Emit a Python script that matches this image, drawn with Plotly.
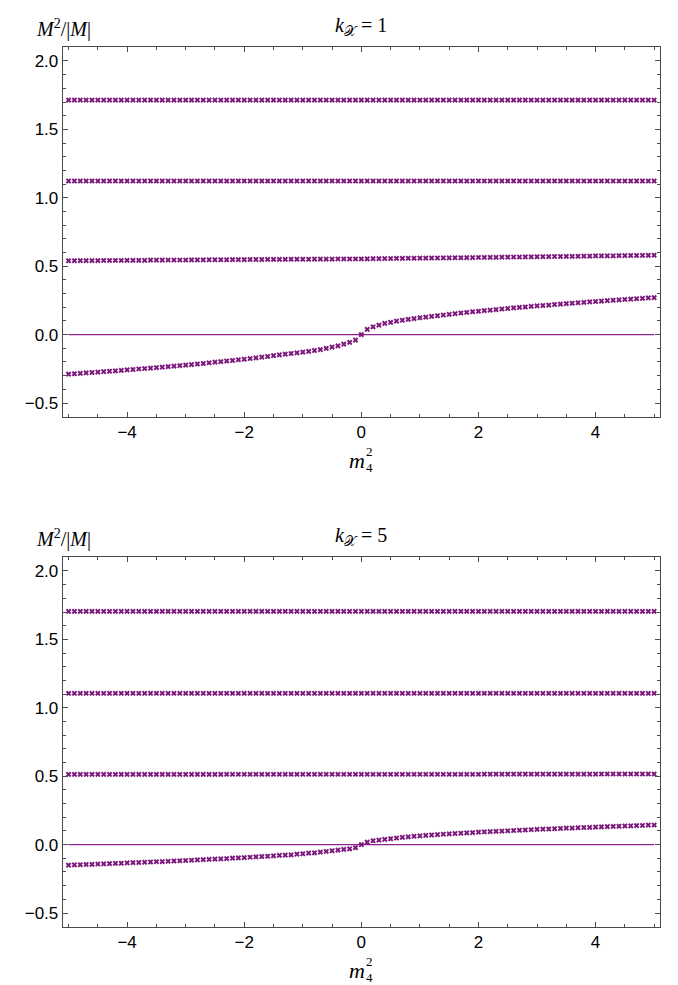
import plotly.graph_objects as go

# ---------------- data ----------------
m4sq = [-5.0, -4.9, -4.8, -4.7, -4.6, -4.5, -4.4, -4.3, -4.2, -4.1,
        -4.0, -3.9, -3.8, -3.7, -3.6, -3.5, -3.4, -3.3, -3.2, -3.1,
        -3.0, -2.9, -2.8, -2.7, -2.6, -2.5, -2.4, -2.3, -2.2, -2.1,
        -2.0, -1.9, -1.8, -1.7, -1.6, -1.5, -1.4, -1.3, -1.2, -1.1,
        -1.0, -0.9, -0.8, -0.7, -0.6, -0.5, -0.4, -0.3, -0.2, -0.1,
        0.0,
        0.1, 0.2, 0.3, 0.4, 0.5, 0.6, 0.7, 0.8, 0.9, 1.0,
        1.1, 1.2, 1.3, 1.4, 1.5, 1.6, 1.7, 1.8, 1.9, 2.0,
        2.1, 2.2, 2.3, 2.4, 2.5, 2.6, 2.7, 2.8, 2.9, 3.0,
        3.1, 3.2, 3.3, 3.4, 3.5, 3.6, 3.7, 3.8, 3.9, 4.0,
        4.1, 4.2, 4.3, 4.4, 4.5, 4.6, 4.7, 4.8, 4.9, 5.0]

# k_X = 1 panel
k1_mode1 = [1.714, 1.714, 1.714, 1.714, 1.714, 1.714, 1.714, 1.714, 1.714, 1.714,
            1.714, 1.714, 1.714, 1.714, 1.714, 1.714, 1.714, 1.714, 1.714, 1.714,
            1.714, 1.714, 1.714, 1.714, 1.714, 1.714, 1.714, 1.714, 1.714, 1.714,
            1.714, 1.714, 1.714, 1.714, 1.714, 1.714, 1.714, 1.714, 1.714, 1.714,
            1.714, 1.714, 1.714, 1.714, 1.714, 1.714, 1.714, 1.714, 1.714, 1.714,
            1.714,
            1.714, 1.714, 1.714, 1.714, 1.714, 1.714, 1.714, 1.714, 1.714, 1.714,
            1.714, 1.714, 1.714, 1.714, 1.714, 1.714, 1.714, 1.714, 1.714, 1.714,
            1.714, 1.714, 1.714, 1.714, 1.714, 1.714, 1.714, 1.714, 1.714, 1.714,
            1.714, 1.714, 1.714, 1.714, 1.714, 1.714, 1.714, 1.714, 1.714, 1.714,
            1.714, 1.714, 1.714, 1.714, 1.714, 1.714, 1.714, 1.714, 1.714, 1.714]
k1_mode2 = [1.123, 1.123, 1.123, 1.123, 1.123, 1.123, 1.123, 1.123, 1.123, 1.123,
            1.123, 1.123, 1.123, 1.123, 1.123, 1.123, 1.123, 1.123, 1.123, 1.123,
            1.123, 1.123, 1.123, 1.123, 1.123, 1.123, 1.123, 1.123, 1.123, 1.123,
            1.123, 1.123, 1.123, 1.123, 1.123, 1.123, 1.123, 1.123, 1.123, 1.123,
            1.123, 1.123, 1.123, 1.123, 1.123, 1.123, 1.123, 1.123, 1.123, 1.123,
            1.123,
            1.123, 1.123, 1.123, 1.123, 1.123, 1.123, 1.123, 1.123, 1.123, 1.123,
            1.123, 1.123, 1.123, 1.123, 1.123, 1.123, 1.123, 1.123, 1.123, 1.123,
            1.123, 1.123, 1.123, 1.123, 1.123, 1.123, 1.123, 1.123, 1.123, 1.123,
            1.123, 1.123, 1.123, 1.123, 1.123, 1.123, 1.123, 1.123, 1.123, 1.123,
            1.123, 1.123, 1.123, 1.123, 1.123, 1.123, 1.123, 1.123, 1.123, 1.123]
k1_mode3 = [0.540, 0.540, 0.541, 0.541, 0.541, 0.541, 0.542, 0.542, 0.542, 0.542,
            0.543, 0.543, 0.543, 0.543, 0.544, 0.544, 0.544, 0.545, 0.545, 0.545,
            0.545, 0.546, 0.546, 0.546, 0.547, 0.547, 0.547, 0.547, 0.548, 0.548,
            0.548, 0.549, 0.549, 0.549, 0.550, 0.550, 0.550, 0.550, 0.551, 0.551,
            0.551, 0.551, 0.552, 0.552, 0.552, 0.552, 0.553, 0.553, 0.553, 0.553,
            0.553,
            0.554, 0.555, 0.555, 0.556, 0.556, 0.557, 0.557, 0.558, 0.558, 0.559,
            0.559, 0.560, 0.560, 0.561, 0.561, 0.562, 0.562, 0.563, 0.563, 0.564,
            0.564, 0.565, 0.565, 0.566, 0.566, 0.567, 0.567, 0.568, 0.568, 0.569,
            0.570, 0.570, 0.571, 0.571, 0.572, 0.572, 0.573, 0.574, 0.574, 0.575,
            0.575, 0.576, 0.576, 0.577, 0.577, 0.578, 0.578, 0.579, 0.579, 0.580]
k1_mode4 = [-0.289, -0.286, -0.283, -0.280, -0.277, -0.274, -0.271, -0.268, -0.265, -0.261,
            -0.258, -0.255, -0.251, -0.248, -0.245, -0.241, -0.238, -0.234, -0.230, -0.227,
            -0.223, -0.219, -0.215, -0.211, -0.206, -0.201, -0.197, -0.193, -0.189, -0.184,
            -0.180, -0.175, -0.170, -0.165, -0.160, -0.154, -0.148, -0.143, -0.138, -0.134,
            -0.128, -0.123, -0.116, -0.110, -0.101, -0.091, -0.082, -0.070, -0.057, -0.040,
            0.000,
            0.038, 0.057, 0.069, 0.082, 0.089, 0.099, 0.105, 0.111, 0.117, 0.123,
            0.128, 0.133, 0.138, 0.143, 0.148, 0.153, 0.158, 0.162, 0.167, 0.171,
            0.175, 0.179, 0.183, 0.187, 0.191, 0.195, 0.199, 0.202, 0.206, 0.210,
            0.213, 0.216, 0.220, 0.223, 0.226, 0.229, 0.233, 0.236, 0.239, 0.242,
            0.245, 0.248, 0.251, 0.254, 0.257, 0.259, 0.262, 0.265, 0.268, 0.270]

# k_X = 5 panel
k5_mode1 = [1.705, 1.705, 1.705, 1.705, 1.705, 1.705, 1.705, 1.705, 1.705, 1.705,
            1.705, 1.705, 1.705, 1.705, 1.705, 1.705, 1.705, 1.705, 1.705, 1.705,
            1.705, 1.705, 1.705, 1.705, 1.705, 1.705, 1.705, 1.705, 1.705, 1.705,
            1.705, 1.705, 1.705, 1.705, 1.705, 1.705, 1.705, 1.705, 1.705, 1.705,
            1.705, 1.705, 1.705, 1.705, 1.705, 1.705, 1.705, 1.705, 1.705, 1.705,
            1.705,
            1.705, 1.705, 1.705, 1.705, 1.705, 1.705, 1.705, 1.705, 1.705, 1.705,
            1.705, 1.705, 1.705, 1.705, 1.705, 1.705, 1.705, 1.705, 1.705, 1.705,
            1.705, 1.705, 1.705, 1.705, 1.705, 1.705, 1.705, 1.705, 1.705, 1.705,
            1.705, 1.705, 1.705, 1.705, 1.705, 1.705, 1.705, 1.705, 1.705, 1.705,
            1.705, 1.705, 1.705, 1.705, 1.705, 1.705, 1.705, 1.705, 1.705, 1.705]
k5_mode2 = [1.106, 1.106, 1.106, 1.106, 1.106, 1.106, 1.106, 1.106, 1.106, 1.106,
            1.106, 1.106, 1.106, 1.106, 1.106, 1.106, 1.106, 1.106, 1.106, 1.106,
            1.106, 1.106, 1.106, 1.106, 1.106, 1.106, 1.106, 1.106, 1.106, 1.106,
            1.106, 1.106, 1.106, 1.106, 1.106, 1.106, 1.106, 1.106, 1.106, 1.106,
            1.106, 1.106, 1.106, 1.106, 1.106, 1.106, 1.106, 1.106, 1.106, 1.106,
            1.106,
            1.106, 1.106, 1.106, 1.106, 1.106, 1.106, 1.106, 1.106, 1.106, 1.106,
            1.106, 1.106, 1.106, 1.106, 1.106, 1.106, 1.106, 1.106, 1.106, 1.106,
            1.106, 1.106, 1.106, 1.106, 1.106, 1.106, 1.106, 1.106, 1.106, 1.106,
            1.106, 1.106, 1.106, 1.106, 1.106, 1.106, 1.106, 1.106, 1.106, 1.106,
            1.106, 1.106, 1.106, 1.106, 1.106, 1.106, 1.106, 1.106, 1.106, 1.106]
k5_mode3 = [0.513, 0.513, 0.513, 0.513, 0.513, 0.513, 0.513, 0.513, 0.513, 0.513,
            0.513, 0.513, 0.513, 0.513, 0.513, 0.513, 0.513, 0.513, 0.513, 0.513,
            0.513, 0.513, 0.513, 0.513, 0.513, 0.513, 0.513, 0.514, 0.514, 0.514,
            0.514, 0.514, 0.514, 0.514, 0.514, 0.514, 0.514, 0.514, 0.514, 0.514,
            0.514, 0.514, 0.514, 0.514, 0.514, 0.514, 0.514, 0.514, 0.514, 0.514,
            0.514,
            0.514, 0.514, 0.514, 0.514, 0.514, 0.514, 0.514, 0.514, 0.514, 0.514,
            0.514, 0.514, 0.514, 0.514, 0.514, 0.514, 0.514, 0.514, 0.514, 0.514,
            0.515, 0.515, 0.515, 0.515, 0.515, 0.515, 0.515, 0.515, 0.515, 0.515,
            0.515, 0.515, 0.515, 0.515, 0.515, 0.515, 0.515, 0.515, 0.515, 0.515,
            0.516, 0.516, 0.516, 0.516, 0.516, 0.516, 0.516, 0.516, 0.516, 0.516]
k5_mode4 = [-0.150, -0.148, -0.147, -0.145, -0.144, -0.142, -0.141, -0.139, -0.137, -0.136,
            -0.134, -0.132, -0.131, -0.129, -0.127, -0.125, -0.124, -0.122, -0.120, -0.118,
            -0.116, -0.114, -0.112, -0.110, -0.108, -0.106, -0.104, -0.102, -0.099, -0.097,
            -0.095, -0.092, -0.090, -0.087, -0.085, -0.082, -0.079, -0.077, -0.075, -0.070,
            -0.067, -0.062, -0.060, -0.055, -0.050, -0.045, -0.040, -0.035, -0.031, -0.023,
            0.000,
            0.018, 0.028, 0.033, 0.038, 0.043, 0.048, 0.053, 0.057, 0.061, 0.064,
            0.067, 0.070, 0.073, 0.076, 0.078, 0.081, 0.083, 0.086, 0.088, 0.091,
            0.093, 0.095, 0.097, 0.099, 0.101, 0.103, 0.105, 0.107, 0.109, 0.111,
            0.113, 0.114, 0.116, 0.118, 0.120, 0.121, 0.123, 0.125, 0.126, 0.128,
            0.130, 0.131, 0.133, 0.134, 0.136, 0.137, 0.139, 0.140, 0.142, 0.143]

zero_x = [-5.0, 5.0]
zero_y = [0.0, 0.0]

panel_titles = ["<i>k</i><sub>𝒳</sub> = 1", "<i>k</i><sub>𝒳</sub> = 5"]
y_ticks = [-0.5, 0.0, 0.5, 1.0, 1.5, 2.0]
y_ticklabels = ["−0.5", "0.0", "0.5", "1.0", "1.5", "2.0"]
x_ticks = [-4, -2, 0, 2, 4]
x_ticklabels = ["−4", "−2", "0", "2", "4"]

panels = [
    (k1_mode1, k1_mode2, k1_mode3, k1_mode4),
    (k5_mode1, k5_mode2, k5_mode3, k5_mode4),
]

# ---------------- style / layout ----------------
W, H = 678, 985
PLOT_L, PLOT_R = 62.7, 660.0
PANEL_TOPS = [47.3, 557.3]
PANEL_H = 369.4

MARK_COLOR = "#7d1a7d"
LINE_COLOR = "#8e248e"
AXIS_COLOR = "#4a4a4a"
TICK_FONT = dict(family="Liberation Sans, Arial, sans-serif", size=17, color="black")
MATH_FONT = "Liberation Serif, DejaVu Serif, serif"

fig = go.Figure()
layout = dict(
    width=W, height=H,
    margin=dict(l=0, r=0, t=0, b=0),
    paper_bgcolor="white", plot_bgcolor="white",
    showlegend=False,
)
annotations = []

for i, series in enumerate(panels):
    xa = "x" if i == 0 else "x2"
    ya = "y" if i == 0 else "y2"
    xkey = "xaxis" if i == 0 else "xaxis2"
    ykey = "yaxis" if i == 0 else "yaxis2"

    fig.add_trace(go.Scatter(x=zero_x, y=zero_y, mode="lines",
                             line=dict(color=LINE_COLOR, width=1.4),
                             xaxis=xa, yaxis=ya, hoverinfo="skip"))
    for s in series:
        fig.add_trace(go.Scatter(x=m4sq, y=s, mode="markers",
                                 marker=dict(symbol="x", size=5, color=MARK_COLOR,
                                             line=dict(width=0)),
                                 xaxis=xa, yaxis=ya))

    top = PANEL_TOPS[i]
    bot = top + PANEL_H
    dom_y = [1 - bot / H, 1 - top / H]
    dom_x = [PLOT_L / W, PLOT_R / W]

    common = dict(showgrid=False, zeroline=False, showline=True, linecolor=AXIS_COLOR,
                  linewidth=1, mirror="allticks", ticks="inside", tickcolor=AXIS_COLOR,
                  ticklen=5, tickwidth=1, tickfont=TICK_FONT)
    layout[xkey] = dict(common, domain=dom_x, range=[-5.1, 5.1],
                        tickvals=x_ticks, ticktext=x_ticklabels,
                        minor=dict(dtick=0.5, tick0=0, ticks="inside", ticklen=3,
                                   tickcolor=AXIS_COLOR, showgrid=False),
                        anchor=ya)
    layout[ykey] = dict(common, domain=dom_y, range=[-0.6, 2.1],
                        tickvals=y_ticks, ticktext=y_ticklabels,
                        minor=dict(dtick=0.1, tick0=0, ticks="inside", ticklen=3,
                                   tickcolor=AXIS_COLOR, showgrid=False),
                        anchor=xa)

    # y label  M^2/|M|
    annotations.append(dict(
        text="<i>M</i><sup>2</sup>/|<i>M</i>|", xref="paper", yref="paper",
        x=34 / W, y=1 - (top - 19) / H, xanchor="left", yanchor="middle",
        showarrow=False, font=dict(family=MATH_FONT, size=20, color="black")))
    # title
    annotations.append(dict(
        text=panel_titles[i], xref="paper", yref="paper",
        x=(PLOT_L + PLOT_R) / 2 / W, y=1 - (top - 21) / H, xanchor="center",
        yanchor="middle", showarrow=False,
        font=dict(family=MATH_FONT, size=20, color="black")))
    # x label  m_4^2
    annotations.append(dict(
        text="<i>m</i>", xref="paper", yref="paper",
        x=367 / W, y=1 - (bot + 44) / H, xanchor="right", yanchor="middle",
        showarrow=False, font=dict(family=MATH_FONT, size=22, color="black")))
    annotations.append(dict(
        text="2", xref="paper", yref="paper",
        x=364 / W, y=1 - (bot + 35) / H, xanchor="left", yanchor="middle",
        showarrow=False, font=dict(family=MATH_FONT, size=13, color="black")))
    annotations.append(dict(
        text="4", xref="paper", yref="paper",
        x=364 / W, y=1 - (bot + 51) / H, xanchor="left", yanchor="middle",
        showarrow=False, font=dict(family=MATH_FONT, size=13, color="black")))

layout["annotations"] = annotations
fig.update_layout(**layout)
fig.write_html("out.html")
